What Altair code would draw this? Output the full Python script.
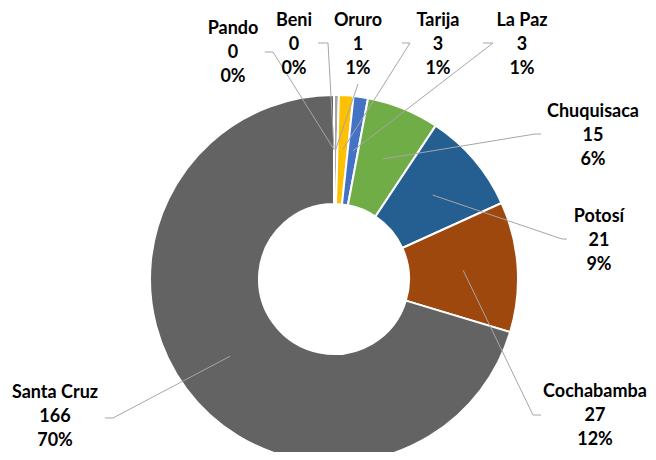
import math
import altair as alt
import pandas as pd

# ---- data ----
regions = ["Pando", "Beni", "Oruro", "Tarija", "La Paz", "Chuquisaca", "Potosí", "Cochabamba", "Santa Cruz"]
values = [0, 0, 1, 3, 3, 15, 21, 27, 166]
pct_labels = ["0%", "0%", "1%", "1%", "1%", "6%", "9%", "12%", "70%"]

# ---- styling / layout ----
colors = ["#5B9BD5", "#BFBFBF", "#A5A5A5", "#FFC000", "#4472C4", "#70AD47", "#255E91", "#9E480E", "#636363"]
W, H = 640, 444
CX, CY = 326, 271
R_OUT, R_IN = 184, 75
R_MID = (R_OUT + R_IN) / 2
LINE_H = 24
FONT = "Lato"
FONT_SIZE = 18

# label block (center x, first line y), leader line end and elbow, in chart pixels
label_pos = {
    "Pando": (225, 21), "Beni": (286, 13), "Oruro": (350, 13), "Tarija": (430, 13),
    "La Paz": (514, 13), "Chuquisaca": (585, 104), "Potosí": (591, 209),
    "Cochabamba": (587, 384), "Santa Cruz": (47, 385),
}
leader = {
    "Pando": ((257, 44), (265, 44)), "Beni": ((310, 35), (320, 35)),
    "Oruro": ((350, 76), (350, 76)), "Tarija": ((394, 35), (402, 35)),
    "La Paz": ((475, 35), (485, 35)), "Chuquisaca": ((533, 126), (527, 126)),
    "Potosí": ((559, 231), (554, 231)), "Cochabamba": ((533, 407), (525, 407)),
    "Santa Cruz": ((97, 410), (105, 410)),
}

df = pd.DataFrame({"region": regions, "value": values, "idx": range(len(regions))})

total = sum(values)
line_rows, text_rows = [], []
cum = 0
for i, (r, v) in enumerate(zip(regions, values)):
    mid = (cum + v / 2) / total * 2 * math.pi
    cum += v
    sx = CX + R_MID * math.sin(mid)
    sy = CY - R_MID * math.cos(mid)
    (ex, ey), (bx, by) = leader[r]
    for seq, (px, py) in enumerate([(sx, sy), (bx, by), (ex, ey)]):
        line_rows.append({"region": r, "seq": seq, "px": px, "py": py})
    lx, ly = label_pos[r]
    for k, t in enumerate([r, str(v), pct_labels[i]]):
        text_rows.append({"region": r, "txt": t, "px": lx, "py": ly + k * LINE_H})

lines_df = pd.DataFrame(line_rows)
text_df = pd.DataFrame(text_rows)

arcs = alt.Chart(df).mark_arc(radius=R_OUT, radius2=R_IN, stroke="white", strokeWidth=2).encode(
    theta=alt.Theta("value:Q", stack=True),
    color=alt.Color("region:N", scale=alt.Scale(domain=regions, range=colors), legend=None),
    order=alt.Order("idx:Q"),
    x=alt.value(CX),
    y=alt.value(CY),
)

leaders = alt.Chart(lines_df).mark_line(color="#A6A6A6", strokeWidth=1).encode(
    x=alt.X("px:Q", scale=None, axis=None),
    y=alt.Y("py:Q", scale=None, axis=None),
    detail="region:N",
    order="seq:Q",
)

labels = alt.Chart(text_df).mark_text(
    font=FONT, fontSize=FONT_SIZE, fontWeight="bold", color="#000000",
    align="center", baseline="middle",
).encode(
    x=alt.X("px:Q", scale=None, axis=None),
    y=alt.Y("py:Q", scale=None, axis=None),
    text="txt:N",
)

chart = alt.layer(arcs, leaders, labels).properties(
    width=W, height=H, padding=0, background="white",
    autosize=alt.AutoSizeParams(type="none"),
).configure_view(stroke=None)

chart.save("out.html", embed_options={"renderer": "svg", "actions": False})
